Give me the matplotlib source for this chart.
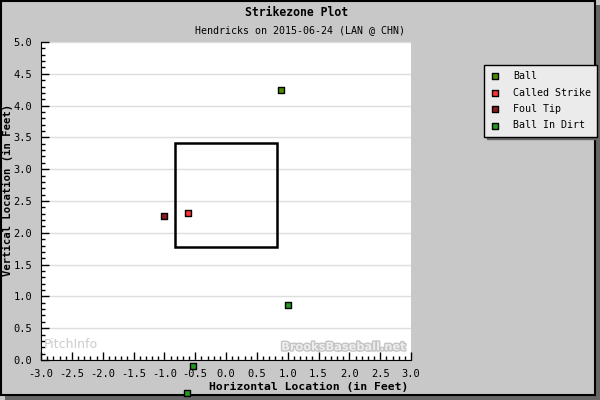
import matplotlib.pyplot as plt
from matplotlib.patches import Rectangle
from matplotlib.ticker import MultipleLocator
import matplotlib.patheffects as pe

# pitch locations (feet)
pitch_types = ['Ball', 'Called Strike', 'Foul Tip', 'Ball In Dirt']
px = {'Ball': [0.89], 'Called Strike': [-0.62], 'Foul Tip': [-1.0],
      'Ball In Dirt': [1.0, -0.54, -0.63]}
pz = {'Ball': [4.24], 'Called Strike': [2.31], 'Foul Tip': [2.26],
      'Ball In Dirt': [0.86, -0.09, -0.52]}
colors = {'Ball': '#4a8c00', 'Called Strike': '#ff3333',
          'Foul Tip': '#8b1a1a', 'Ball In Dirt': '#229922'}
sz_left, sz_right = -0.83, 0.83
sz_bot, sz_top = 1.77, 3.41

mono = 'DejaVu Sans Mono'
plt.rcParams['font.family'] = mono

fig = plt.figure(figsize=(6, 4), dpi=100, facecolor='#c8c8c8')
# frame with drop shadow
fig.patches.append(Rectangle((5/600, 0), 595/600, 395/400, transform=fig.transFigure,
                             facecolor='#666666', edgecolor='none', zorder=-10))
fig.patches.append(Rectangle((0.5/600, 5/400), 594/600, 394.5/400, transform=fig.transFigure,
                             facecolor='#c8c8c8', edgecolor='black', lw=1.5, zorder=-9))

ax = fig.add_axes([41/600, 40/400, 370/600, 318/400])
ax.set_facecolor('white')
ax.set_xlim(-3, 3)
ax.set_ylim(0, 5)
for s in ['top', 'right']:
    ax.spines[s].set_visible(False)
ax.xaxis.set_major_locator(MultipleLocator(0.5))
ax.xaxis.set_minor_locator(MultipleLocator(0.1))
ax.yaxis.set_major_locator(MultipleLocator(0.5))
ax.yaxis.set_minor_locator(MultipleLocator(0.1))
ax.xaxis.set_major_formatter(lambda v, p: '%.1f' % v)
ax.yaxis.set_major_formatter(lambda v, p: '%.1f' % v)
ax.tick_params(which='major', direction='in', length=6, width=1, labelsize=7.5)
ax.tick_params(which='minor', direction='in', length=3, width=1)
ax.tick_params(axis='x', which='major', pad=6.5)
ax.tick_params(axis='y', which='major', pad=6.5)
ax.grid(axis='y', which='major', color='#dddddd', lw=1)
ax.set_axisbelow(True)

ax.add_patch(Rectangle((sz_left, sz_bot), sz_right - sz_left, sz_top - sz_bot,
                       fill=False, edgecolor='black', lw=1.8, zorder=3))

for t in pitch_types:
    ax.scatter(px[t], pz[t], marker='s', s=22, color=colors[t], edgecolor='black',
               linewidth=1, zorder=5, clip_on=False, label=t)

# watermarks
ax.text(-2.95, 0.25, 'PitchInfo', fontsize=9, color='#cccccc', family='DejaVu Sans',
        va='center', ha='left')
ax.text(2.92, 0.2, 'BrooksBaseball.net', fontsize=8.2, color='#eeeeee', family='DejaVu Sans',
        fontweight='bold', va='center', ha='right',
        path_effects=[pe.withStroke(linewidth=2, foreground='#c4c4c4')])

fig.text(297/600, 1 - 12/400, 'Strikezone Plot', ha='center', va='center',
         fontsize=8.3, fontweight='bold')
fig.text(300/600, 1 - 30/400, 'Hendricks on 2015-06-24 (LAN @ CHN)', ha='center',
         va='center', fontsize=7.2)
fig.text(408/600, 1 - 387/400, 'Horizontal Location (in Feet)', ha='right', va='center',
         fontsize=8.2, fontweight='bold')
fig.text(8/600, 1 - 190/400, 'Vertical Location (in Feet)', ha='center', va='center',
         rotation=90, fontsize=7.6, fontweight='bold')

leg = ax.legend(loc='upper left', bbox_to_anchor=(484/600, 1 - 65/400),
                bbox_transform=fig.transFigure, fontsize=7.2, frameon=True,
                fancybox=False, shadow={'color': '#666666', 'alpha': 1},
                edgecolor='black', facecolor='#ebebeb', framealpha=1,
                borderpad=0.6, labelspacing=0.65, handletextpad=1.3,
                handlelength=1.0, borderaxespad=0)
leg.get_frame().set_linewidth(1)

fig.savefig('out.png', dpi=100, facecolor=fig.get_facecolor())
